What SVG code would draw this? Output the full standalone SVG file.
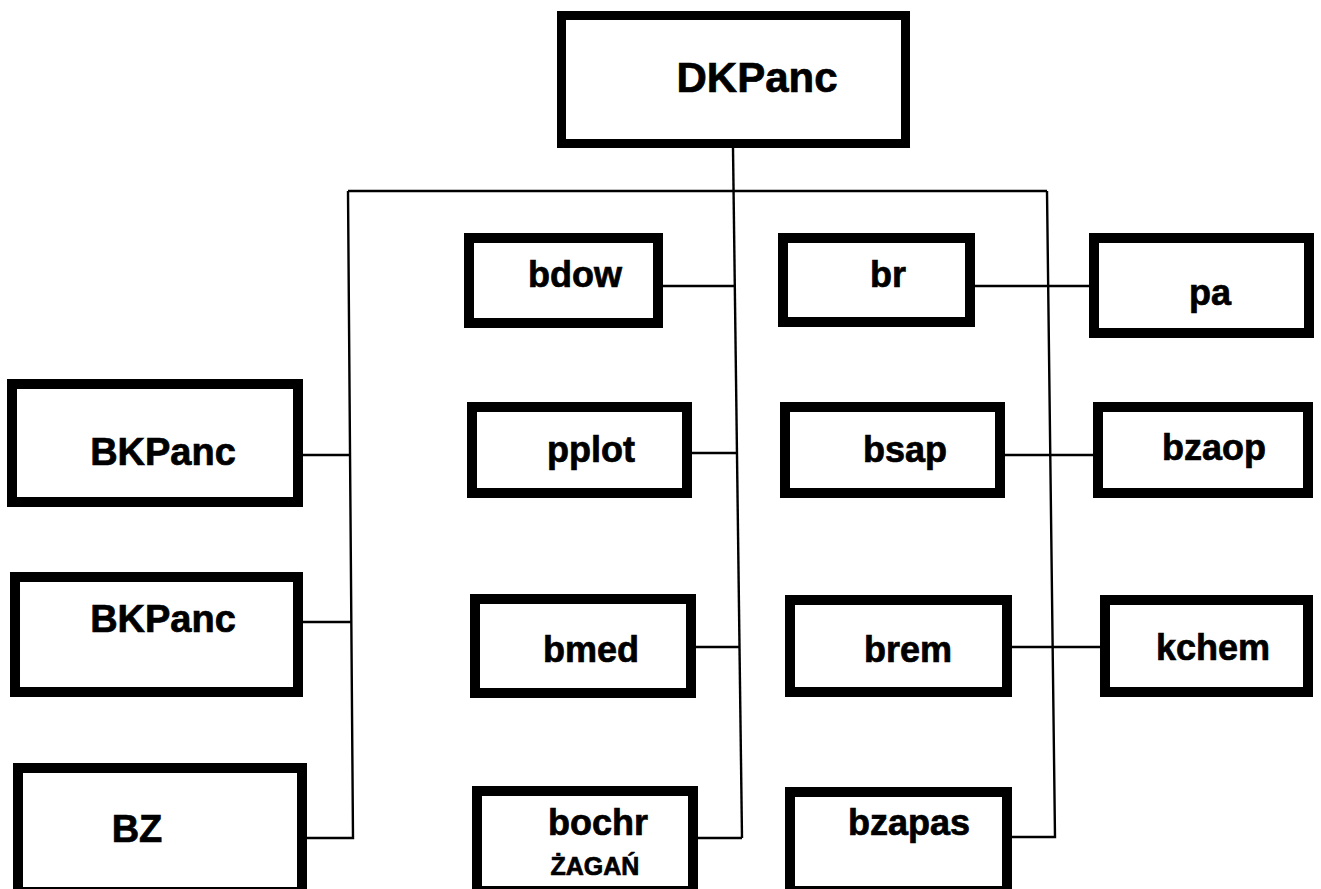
<svg xmlns="http://www.w3.org/2000/svg" width="1321" height="889" viewBox="0 0 1321 889">
<style>
.box{fill:#fff;stroke:#000;stroke-width:10}
.t{font-family:"Liberation Sans",Arial,sans-serif;font-weight:bold;fill:#000;stroke:#000;stroke-width:0.7;text-anchor:middle}
.c{fill:none;stroke:#000;stroke-width:2.4}
</style>
<rect width="1321" height="889" fill="#fff"/>
<g id="connectors">
<line class="c" x1="733" y1="148" x2="742" y2="838"/>
<line class="c" x1="348" y1="191" x2="1047" y2="191"/>
<polyline class="c" points="348,191 353,838 307,838"/>
<polyline class="c" points="1047,191 1055,837 1012,837"/>
<line class="c" x1="303" y1="455" x2="350" y2="455"/>
<line class="c" x1="303" y1="622" x2="351" y2="622"/>
<line class="c" x1="663" y1="286" x2="735" y2="286"/>
<line class="c" x1="692" y1="453" x2="737" y2="453"/>
<line class="c" x1="696" y1="647" x2="739" y2="647"/>
<line class="c" x1="698" y1="838" x2="742" y2="838"/>
<line class="c" x1="975" y1="286" x2="1089" y2="286"/>
<line class="c" x1="1005" y1="455" x2="1093" y2="455"/>
<line class="c" x1="1012" y1="647" x2="1100" y2="647"/>
</g>
<g id="DKPanc"><rect class="box" x="561.5" y="15.5" width="344" height="128" style="stroke-width:9"/><text class="t" x="757" y="92" font-size="42">DKPanc</text></g>
<g id="bdow"><rect class="box" x="469" y="238" width="189" height="85"/><text class="t" x="575" y="287" font-size="36">bdow</text></g>
<g id="br"><rect class="box" x="783" y="238" width="187" height="84"/><text class="t" x="888" y="287" font-size="36">br</text></g>
<g id="pa"><rect class="box" x="1094" y="238" width="215" height="95"/><text class="t" x="1210" y="305" font-size="36">pa</text></g>
<g id="BKPanc1"><rect class="box" x="12" y="384" width="286" height="118"/><text class="t" x="163" y="465" font-size="38">BKPanc</text></g>
<g id="pplot"><rect class="box" x="472" y="407" width="215" height="86"/><text class="t" x="591" y="462" font-size="36">pplot</text></g>
<g id="bsap"><rect class="box" x="785" y="407" width="215" height="86"/><text class="t" x="905" y="462" font-size="36">bsap</text></g>
<g id="bzaop"><rect class="box" x="1098" y="407" width="210" height="86"/><text class="t" x="1214" y="460" font-size="36">bzaop</text></g>
<g id="BKPanc2"><rect class="box" x="15" y="577" width="283" height="115"/><text class="t" x="163" y="632" font-size="38">BKPanc</text></g>
<g id="bmed"><rect class="box" x="475" y="599" width="216" height="94"/><text class="t" x="591" y="662" font-size="36">bmed</text></g>
<g id="brem"><rect class="box" x="790" y="600" width="217" height="92"/><text class="t" x="908" y="662" font-size="36">brem</text></g>
<g id="kchem"><rect class="box" x="1105" y="600" width="203" height="92"/><text class="t" x="1213" y="660" font-size="36">kchem</text></g>
<g id="BZ"><rect class="box" x="18" y="768" width="284" height="124"/><text class="t" x="137" y="842" font-size="38">BZ</text></g>
<g id="bochr"><rect class="box" x="477" y="791" width="216" height="100"/><text class="t" x="598" y="835" font-size="36">bochr</text><text class="t" x="595" y="875" font-size="25">ŻAGAŃ</text></g>
<g id="bzapas"><rect class="box" x="790" y="792" width="217" height="99"/><text class="t" x="909" y="835" font-size="36">bzapas</text></g>
</svg>
